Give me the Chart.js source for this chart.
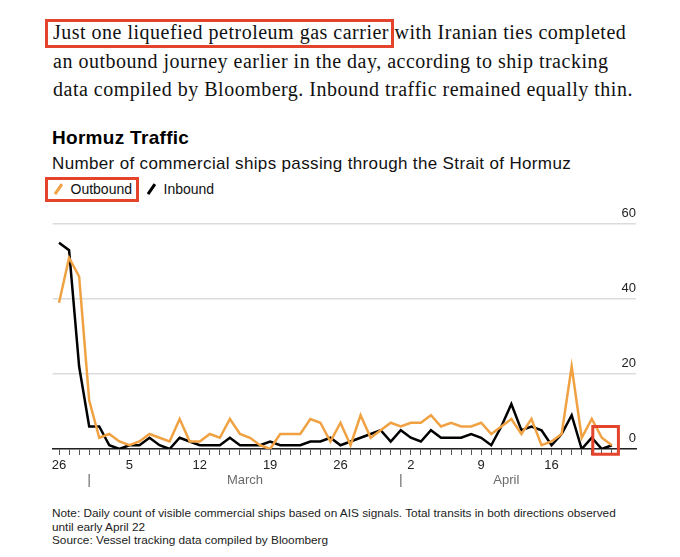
<!DOCTYPE html>
<html>
<head>
<meta charset="utf-8">
<script src="https://cdn.jsdelivr.net/npm/chart.js@4.4.1/dist/chart.umd.min.js"></script>
<style>
  body { margin: 0; width: 680px; height: 557px; background: #fff; position: relative; overflow: hidden;
         font-family: "Liberation Sans", Arial, sans-serif; color: #111; }
  #intro { position: absolute; left: 53px; top: 18px; width: 627px; font-family: "Liberation Serif", serif;
           font-size: 20px; line-height: 28.5px; letter-spacing: 0.5px; color: #111; white-space: nowrap; }
  .redbox { position: absolute; border: 3px solid #e4432c; box-sizing: border-box; }
  #title { position: absolute; left: 52px; top: 127px; font-size: 19px; letter-spacing: 0.3px; font-weight: bold; color: #000; }
  #sub { position: absolute; left: 52px; top: 154px; font-size: 17px; letter-spacing: 0.35px; color: #111; white-space: nowrap; }
  #legend { position: absolute; left: 57px; top: 181px; font-size: 14px; color: #111; white-space: nowrap; }
  #legend span.item { margin-right: 18px; }
  .slash { display: inline-block; width: 2.5px; height: 12px; transform: rotate(35deg); margin-right: 11px;
           vertical-align: -1px; }
  #wrap { position: absolute; left: 0; top: 200px; width: 680px; height: 300px; }
  #note { position: absolute; left: 52px; top: 507px; font-size: 11.8px; line-height: 13.7px; color: #222;
          white-space: nowrap; }
</style>
</head>
<body>
<div id="intro"><span id="hl">Just one liquefied petroleum gas carrier</span> with Iranian ties completed<br>an outbound journey earlier in the day, according to ship tracking<br>data compiled by Bloomberg. Inbound traffic remained equally thin.</div>
<div class="redbox" id="hlbox" style="left:45px; top:19px; width:349px; height:29px;"></div>
<div id="title">Hormuz Traffic</div>
<div id="sub">Number of commercial ships passing through the Strait of Hormuz</div>
<div id="legend"><span class="item"><span class="slash" style="background:#f0a243"></span>Outbound</span><span class="item"><span class="slash" style="background:#000"></span>Inbound</span></div>
<div class="redbox" style="left:45px; top:177px; width:94px; height:25px;"></div>
<div id="wrap"><canvas id="chart1"></canvas></div>
<div id="note">Note: Daily count of visible commercial ships based on AIS signals. Total transits in both directions observed<br>until early April 22<br>Source: Vessel tracking data compiled by Bloomberg</div>

<script>
// day of month for each daily point, Feb 26 .. Apr 22
const days = [26, 27, 28,
  1, 2, 3, 4, 5, 6, 7, 8, 9, 10, 11, 12, 13, 14, 15, 16, 17, 18, 19, 20, 21, 22, 23, 24, 25, 26, 27, 28, 29, 30, 31,
  1, 2, 3, 4, 5, 6, 7, 8, 9, 10, 11, 12, 13, 14, 15, 16, 17, 18, 19, 20, 21, 22];

const months = ['March', 'April'];

const outbound = [39, 51, 46,
  13, 3, 4, 2, 1, 2, 4, 3, 2, 8, 2, 2, 4, 3, 8, 4, 3, 1, 0, 4, 4, 4, 8, 7, 2, 7, 1, 9, 3,
  5, 7, 6, 7, 7, 9, 6, 7, 6, 6, 7, 4, 6, 8, 4, 8, 1, 2, 4, 22, 3, 8, 3, 1];

const inbound = [55, 53, 22,
  6, 6, 1, 0, 1, 1, 3, 1, 0, 3, 2, 1, 1, 1, 3, 1, 1, 1, 2, 1, 1, 1, 2, 2, 3, 1, 2, 3, 4,
  5, 2, 5, 3, 2, 5, 3, 3, 3, 4, 3, 1, 6, 12, 5, 6, 5, 1, 4, 9, 0, 3, 0, 1];

const yTicks = [0, 20, 40, 60];

const toPoints = arr => arr.map((v, i) => ({x: i, y: v}));

// fit the red box round the highlighted phrase
const hl = document.getElementById('hl').getBoundingClientRect();
const hlbox = document.getElementById('hlbox');
hlbox.style.left = (hl.left - 8) + 'px';
hlbox.style.width = (hl.right - hl.left + 13) + 'px';

// month names + separators under the day ticks
const monthLabels = {
  id: 'monthLabels',
  afterDraw(chart) {
    const {ctx, scales: {x}} = chart;
    const starts = [];
    days.forEach((d, i) => { if (d === 1) starts.push(i); });
    ctx.save();
    ctx.font = '13px "Liberation Sans", Arial, sans-serif';
    ctx.fillStyle = '#6b6b6b';
    ctx.strokeStyle = '#8a8a8a';
    ctx.lineWidth = 1.5;
    ctx.textAlign = 'center';
    ctx.textBaseline = 'middle';
    starts.forEach((s, m) => {
      const end = m + 1 < starts.length ? starts[m + 1] : days.length - 1;
      const px = x.getPixelForValue(s);
      ctx.beginPath();
      ctx.moveTo(px, 274);
      ctx.lineTo(px, 287);
      ctx.stroke();
      ctx.fillText(months[m], x.getPixelForValue((s + end) / 2), 280);
    });
    ctx.restore();
  }
};

// red highlight round the last days
const lastBox = {
  id: 'lastBox',
  afterDatasetsDraw(chart) {
    const {ctx, scales: {x, y}} = chart;
    const n = days.length - 1;
    const l = x.getPixelForValue(n - 1.9), r = x.getPixelForValue(n + 0.65);
    const t = y.getPixelForValue(6), b = y.getPixelForValue(-1.4);
    ctx.save();
    ctx.strokeStyle = '#e4432c';
    ctx.lineWidth = 3;
    ctx.strokeRect(l, t, r - l, b - t);
    ctx.restore();
  }
};

const ctx = document.getElementById('chart1');

new Chart(ctx, {
  type: 'line',
  data: {
    datasets: [{
      label: 'Outbound',
      data: toPoints(outbound),
      borderColor: '#f0a243',
      borderWidth: 2.5,
      pointRadius: 0,
      tension: 0
    }, {
      label: 'Inbound',
      data: toPoints(inbound),
      borderColor: '#000',
      borderWidth: 2.5,
      pointRadius: 0,
      tension: 0
    }]
  },
  options: {
    responsive: true,
    maintainAspectRatio: false,
    animation: false,
    layout: {padding: {top: 24, left: 52.7, right: 44, bottom: 0}},
    scales: {
      x: {
        type: 'linear',
        min: -0.63,
        max: 57.4,
        afterBuildTicks: s => { s.ticks = days.map((d, i) => ({value: i})); },
        afterFit: s => { s.height = 51; },
        grid: {drawOnChartArea: false, tickLength: 6, color: '#555', lineWidth: 1},
        border: {color: '#222', width: 1.5},
        ticks: {
          autoSkip: false,
          maxRotation: 0,
          padding: 3,
          color: '#222',
          font: {size: 13, family: '"Liberation Sans", Arial, sans-serif'},
          callback: v => (v % 7 === 0 ? String(days[v]) : '')
        }
      },
      y: {
        position: 'right',
        min: 0,
        max: 60,
        afterBuildTicks: s => { s.ticks = yTicks.map(v => ({value: v})); },
        afterFit: s => { s.width = 0; },
        grid: {color: '#dcdcdc', lineWidth: 1.5, drawTicks: false},
        border: {display: false},
        ticks: {
          mirror: true,
          padding: 0,
          labelOffset: -11,
          color: '#222',
          font: {size: 13, family: '"Liberation Sans", Arial, sans-serif'}
        }
      }
    },
    plugins: {
      legend: {display: false},
      tooltip: {enabled: false}
    }
  },
  plugins: [monthLabels, lastBox]
});
</script>
</body>
</html>
